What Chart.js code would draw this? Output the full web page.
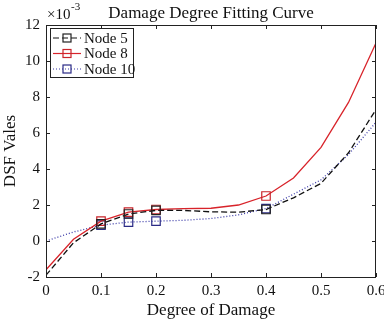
<!DOCTYPE html>
<html>
<head>
<meta charset="utf-8">
<script src="https://cdn.jsdelivr.net/npm/chart.js@4"></script>
<style>
  html, body { margin: 0; padding: 0; background: #fff; }
  #wrap { width: 384px; height: 323px; position: relative; }
</style>
</head>
<body>
<div id="wrap"><canvas id="c"></canvas></div>
<script>
// Datos (eje y en unidades de 1e-3)
const grados = [0, 0.05, 0.1, 0.15, 0.2, 0.25, 0.3, 0.35, 0.4, 0.45, 0.5, 0.55, 0.6];
const nodo5 = [-1.9, -0.1, 0.95, 1.5, 1.7, 1.7, 1.62, 1.6, 1.75, 2.4, 3.2, 4.9, 7.3];
const nodo8 = [-1.6, 0.1, 1.1, 1.6, 1.75, 1.8, 1.82, 2.0, 2.5, 3.5, 5.2, 7.7, 11.0];
const nodo10 = [0.0, 0.5, 0.88, 1.05, 1.1, 1.15, 1.25, 1.45, 1.8, 2.6, 3.4, 4.8, 6.6];
const conMarcador = [0.1, 0.15, 0.2, 0.4];
const xTicks = [0, 0.1, 0.2, 0.3, 0.4, 0.5, 0.6];
const yTicks = [-2, 0, 2, 4, 6, 8, 10, 12];

const FUENTE = '"Liberation Serif", "Times New Roman", serif';

function puntos(valores) {
    return grados.map((g, i) => ({ x: g, y: valores[i] }));
}
const radios = grados.map(g => conMarcador.includes(g) ? 6 : 0);

const series = [
    { label: 'Node 5', data: nodo5, color: '#111111', marker: '#222222', dash: [6, 3] },
    { label: 'Node 8', data: nodo8, color: '#d8232a', marker: '#c8242a', dash: [] },
    { label: 'Node 10', data: nodo10, color: '#3b3ba8', marker: '#2b2b86', dash: [1, 2] }
];

// Marco, marcas interiores, título y leyenda al estilo MATLAB
const marcoPlugin = {
    id: 'marco',
    afterDraw(chart) {
        const { ctx, chartArea: a, scales } = chart;
        ctx.save();
        ctx.strokeStyle = '#222';
        ctx.lineWidth = 1;
        ctx.strokeRect(a.left + 0.5, a.top + 0.5, a.right - a.left - 1, a.bottom - a.top);
        ctx.beginPath();
        xTicks.forEach(v => {
            const px = Math.round(scales.x.getPixelForValue(v)) + 0.5;
            ctx.moveTo(px, a.bottom); ctx.lineTo(px, a.bottom - 4);
            ctx.moveTo(px, a.top); ctx.lineTo(px, a.top + 4);
        });
        yTicks.forEach(v => {
            const py = Math.round(scales.y.getPixelForValue(v)) + 0.5;
            ctx.moveTo(a.left, py); ctx.lineTo(a.left + 4, py);
            ctx.moveTo(a.right, py); ctx.lineTo(a.right - 4, py);
        });
        ctx.stroke();

        // Título
        ctx.fillStyle = '#111';
        ctx.font = '17px ' + FUENTE;
        ctx.textAlign = 'center';
        ctx.textBaseline = 'alphabetic';
        ctx.fillText('Damage Degree Fitting Curve', (a.left + a.right) / 2, 18);

        // Multiplicador ×10^-3
        ctx.textAlign = 'left';
        ctx.font = '15px ' + FUENTE;
        ctx.fillText('\u00d710', a.left + 1, 19);
        ctx.font = '11px ' + FUENTE;
        ctx.fillText('-3', a.left + 25, 10);

        // Leyenda
        const lx = a.left + 4, ly = a.top + 3, lw = 83, lh = 49;
        ctx.fillStyle = '#fff';
        ctx.fillRect(lx, ly, lw, lh);
        ctx.strokeStyle = '#222';
        ctx.strokeRect(lx + 0.5, ly + 0.5, lw, lh);
        series.forEach((s, i) => {
            const yy = ly + 10 + i * 15.5;
            ctx.strokeStyle = s.color;
            ctx.lineWidth = 1.2;
            ctx.setLineDash(s.dash);
            ctx.beginPath();
            ctx.moveTo(lx + 3, yy); ctx.lineTo(lx + 31, yy);
            ctx.stroke();
            ctx.setLineDash([]);
            ctx.strokeStyle = s.marker;
            ctx.strokeRect(lx + 13, yy - 4, 8, 8);
            ctx.fillStyle = '#111';
            ctx.font = '15px ' + FUENTE;
            ctx.textBaseline = 'middle';
            ctx.fillText(s.label, lx + 34, yy + 1);
        });
        ctx.restore();
    }
};

new Chart(document.getElementById('c'), {
    type: 'line',
    data: {
        datasets: series.map(s => ({
            label: s.label,
            data: puntos(s.data),
            borderColor: s.color,
            borderWidth: 1.3,
            borderDash: s.dash,
            pointStyle: 'rect',
            pointRadius: radios,
            pointBorderColor: s.marker,
            pointBackgroundColor: 'rgba(0,0,0,0)',
            pointBorderWidth: 1.2,
            tension: 0,
            fill: false
        }))
    },
    options: {
        responsive: true,
        maintainAspectRatio: false,
        animation: false,
        layout: { padding: { top: 25, right: 8, left: 0, bottom: 0 } },
        plugins: { legend: { display: false }, tooltip: { enabled: false } },
        scales: {
            x: {
                type: 'linear', min: 0, max: 0.6,
                afterBuildTicks: s => { s.ticks = xTicks.map(v => ({ value: v })); },
                grid: { display: false, drawTicks: false },
                border: { display: false },
                ticks: { color: '#111', font: { family: FUENTE, size: 15 }, padding: 5,
                    callback: v => v === 0 ? '0' : String(v) },
                title: { display: true, text: 'Degree of Damage', color: '#111',
                    font: { family: FUENTE, size: 17 }, padding: { top: 0, bottom: 2 } },
                afterFit: s => { s.height = 46; s.paddingLeft = 0; s.paddingRight = 0; }
            },
            y: {
                type: 'linear', min: -2, max: 12,
                afterBuildTicks: s => { s.ticks = yTicks.map(v => ({ value: v })); },
                grid: { display: false, drawTicks: false },
                border: { display: false },
                ticks: { color: '#111', font: { family: FUENTE, size: 15 }, padding: 6 },
                title: { display: true, text: 'DSF Vales', color: '#111',
                    font: { family: FUENTE, size: 17 }, padding: { top: 0, bottom: 1 } },
                afterFit: s => { s.width = 46; }
            }
        }
    },
    plugins: [marcoPlugin]
});
</script>
</body>
</html>
